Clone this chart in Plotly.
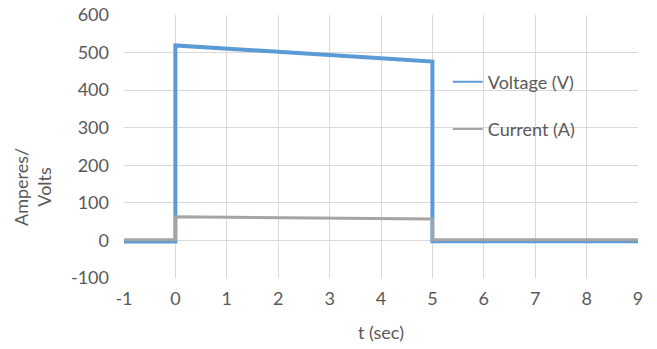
import plotly.graph_objects as go

t = [-1, 0, 0, 1, 2, 3, 4, 5, 5, 9]
voltage = [-3, -3, 519, 511, 502, 494, 485, 476, -2, -2]
current = [2, 2, 63, 62, 61, 60, 58, 57, 2, 2]

x_ticks = list(range(-1, 10))
y_ticks = list(range(-100, 601, 100))

FONT = "Lato"
GRAY = "#595959"
FS = 18
BLUE = "#5B9BD5"
GREY_LINE = "#A5A5A5"

fig = go.Figure()
fig.add_trace(go.Scatter(x=t, y=voltage, mode="lines", name="Voltage (V)", showlegend=False,
                         line=dict(color=BLUE, width=4)))
fig.add_trace(go.Scatter(x=t, y=current, mode="lines", name="Current (A)", showlegend=False,
                         line=dict(color=GREY_LINE, width=3)))
# legend entries with thin lines
fig.add_trace(go.Scatter(x=[None], y=[None], mode="lines", name="Voltage (V)", showlegend=True,
                         line=dict(color=BLUE, width=2), legend="legend"))
fig.add_trace(go.Scatter(x=[None], y=[None], mode="lines", name="Current (A)", showlegend=True,
                         line=dict(color=GREY_LINE, width=2), legend="legend2"))

fig.add_annotation(text="Amperes/<br>Volts", textangle=-90, xref="paper", yref="paper",
                   x=-0.179, y=0.346, xanchor="center", yanchor="middle", showarrow=False,
                   font=dict(size=FS, color=GRAY, family=FONT))

fig.update_layout(
    width=657, height=349,
    margin=dict(l=124, r=19, t=15, b=71),
    paper_bgcolor="white", plot_bgcolor="white",
    showlegend=True,
    font=dict(family=FONT, size=FS, color=GRAY),
    legend=dict(x=0.63, y=0.745, xanchor="left", yanchor="middle",
                bgcolor="rgba(0,0,0,0)", font=dict(size=FS, color=GRAY)),
    legend2=dict(x=0.63, y=0.565, xanchor="left", yanchor="middle",
                 bgcolor="rgba(0,0,0,0)", font=dict(size=FS, color=GRAY)),
    xaxis=dict(range=[-1, 9], tickvals=x_ticks, ticktext=[str(v) for v in x_ticks],
               showgrid=True, gridcolor="#d9d9d9", automargin=False,
               zeroline=False, showline=False, ticks="", ticklabelstandoff=8,
               title=dict(text="t (sec)", standoff=18, font=dict(size=FS, color=GRAY))),
    yaxis=dict(range=[-100, 600], tickvals=y_ticks, ticktext=[str(v) for v in y_ticks],
               showgrid=True, gridcolor="#d9d9d9", automargin=False,
               zeroline=False, showline=False, ticks="", ticklabelstandoff=14),
)

fig.write_html("out.html")
